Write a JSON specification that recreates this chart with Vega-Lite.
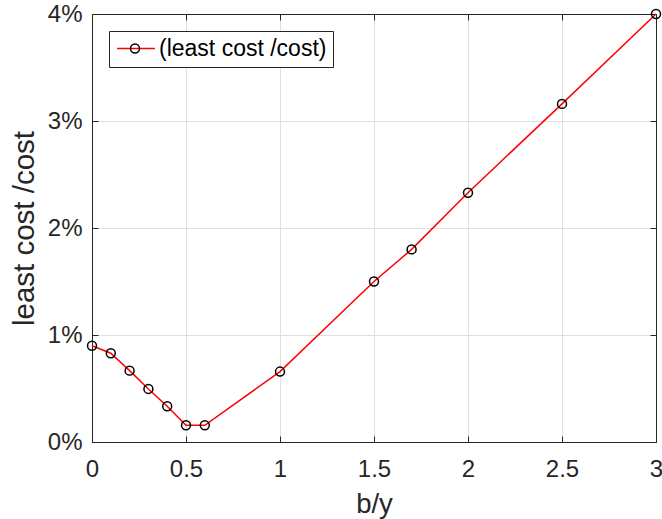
{
  "$schema": "https://vega.github.io/schema/vega-lite/v6.json",
  "width": 564,
  "height": 428,
  "autosize": {"type": "none"},
  "padding": {"left": 92, "top": 14, "right": 6, "bottom": 77},
  "background": "white",
  "data": {
    "values": [
      {"x": 0, "y": 0.9, "series": "(least cost /cost)", "marker": "o"},
      {"x": 0.1, "y": 0.83, "series": "(least cost /cost)", "marker": "o"},
      {"x": 0.2, "y": 0.667, "series": "(least cost /cost)", "marker": "o"},
      {"x": 0.3, "y": 0.496, "series": "(least cost /cost)", "marker": "o"},
      {"x": 0.4, "y": 0.334, "series": "(least cost /cost)", "marker": "o"},
      {"x": 0.5, "y": 0.156, "series": "(least cost /cost)", "marker": "o"},
      {"x": 0.6, "y": 0.156, "series": "(least cost /cost)", "marker": "o"},
      {"x": 1, "y": 0.658, "series": "(least cost /cost)", "marker": "o"},
      {"x": 1.5, "y": 1.5, "series": "(least cost /cost)", "marker": "o"},
      {"x": 1.7, "y": 1.8, "series": "(least cost /cost)", "marker": "o"},
      {"x": 2, "y": 2.33, "series": "(least cost /cost)", "marker": "o"},
      {"x": 2.5, "y": 3.16, "series": "(least cost /cost)", "marker": "o"},
      {"x": 3, "y": 4.0, "series": "(least cost /cost)", "marker": "o"}
    ]
  },
  "layer": [
    {
      "mark": {"type": "line", "strokeWidth": 1.5, "clip": false},
      "encoding": {
        "x": {
          "field": "x", "type": "quantitative",
          "scale": {"domain": [0, 3], "nice": false, "zero": false},
          "axis": {
            "values": [0, 0.5, 1, 1.5, 2, 2.5, 3],
            "format": "~g",
            "title": "b/y",
            "titleFontSize": 27.5,
            "grid": true,
            "labelFlush": false,
            "tickSize": -6,
            "labelPadding": 21,
            "titlePadding": 9
          }
        },
        "y": {
          "field": "y", "type": "quantitative",
          "scale": {"domain": [0, 4], "nice": false, "zero": false},
          "axis": {
            "values": [0, 1, 2, 3, 4],
            "labelExpr": "datum.value + '%'",
            "title": "least cost /cost",
            "titleFontSize": 29.5,
            "grid": true,
            "labelFlush": false,
            "tickSize": -6,
            "labelPadding": 16,
            "titlePadding": 8
          }
        },
        "color": {
          "field": "series", "type": "nominal",
          "scale": {"range": ["#ff0000"]},
          "legend": {
            "orient": "none", "legendX": 17, "legendY": 17,
            "title": null,
            "symbolType": "M-1,0H3", "symbolSize": 361, "symbolStrokeWidth": 1.5,
            "labelFontSize": 23, "labelColor": "black", "labelOffset": 21, "labelLimit": 0,
            "strokeColor": "#262626", "fillColor": "white", "padding": 6
          }
        }
      }
    },
    {
      "mark": {"type": "point", "filled": false, "color": "black", "size": 80, "strokeWidth": 1.5, "opacity": 1, "clip": false},
      "encoding": {
        "x": {"field": "x", "type": "quantitative", "axis": null},
        "y": {"field": "y", "type": "quantitative", "axis": null},
        "shape": {
          "field": "marker", "type": "nominal",
          "scale": {"range": ["circle"]},
          "legend": {
            "orient": "none", "legendX": 25.5, "legendY": 17,
            "title": null,
            "symbolType": "circle", "symbolSize": 80, "symbolStrokeWidth": 1.5,
            "symbolStrokeColor": "black", "symbolFillColor": "transparent",
            "labelExpr": "''",
            "labelFontSize": 23, "labelColor": "transparent", "labelLimit": 0, "padding": 6
          }
        }
      }
    },
    {
      "mark": {"type": "point", "opacity": 0},
      "encoding": {
        "x": {
          "field": "x", "type": "quantitative",
          "axis": {"orient": "top", "values": [0, 0.5, 1, 1.5, 2, 2.5, 3], "labels": false, "title": null, "grid": false, "tickSize": -6}
        },
        "y": {
          "field": "y", "type": "quantitative",
          "axis": {"orient": "right", "values": [0, 1, 2, 3, 4], "labels": false, "title": null, "grid": false, "tickSize": -6}
        }
      }
    }
  ],
  "resolve": {"axis": {"x": "independent", "y": "independent"}},
  "config": {
    "font": "Liberation Sans",
    "view": {"stroke": null},
    "axis": {
      "labelFont": "Liberation Sans",
      "titleFont": "Liberation Sans",
      "labelFontSize": 24,
      "titleFontSize": 27,
      "titleFontWeight": "normal",
      "labelColor": "#262626",
      "titleColor": "#262626",
      "domainColor": "#262626",
      "domainWidth": 1,
      "tickColor": "#262626",
      "tickWidth": 1,
      "gridColor": "#dfdfdf",
      "gridWidth": 1
    },
    "legend": {
      "labelFont": "Liberation Sans"
    }
  }
}
